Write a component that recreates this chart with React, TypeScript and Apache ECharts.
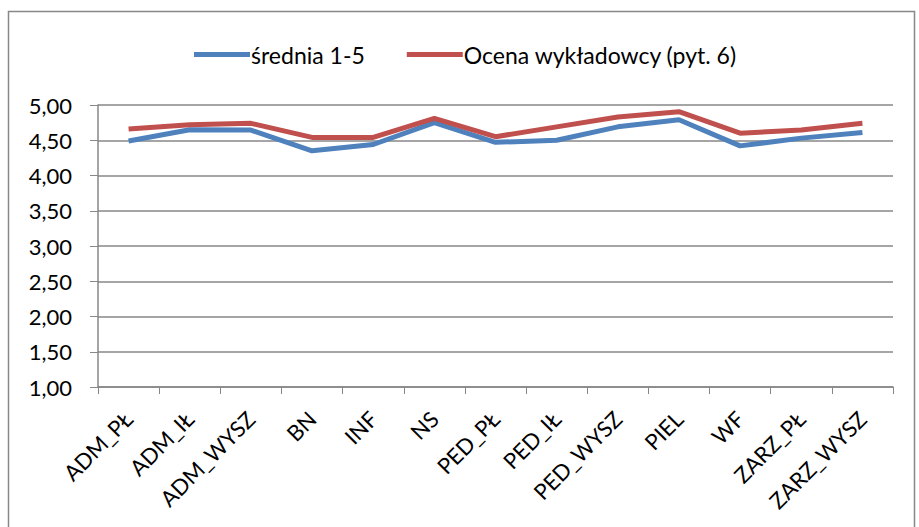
import React, { useEffect, useRef } from "react";
import * as echarts from "echarts";

const categories = ["ADM_PŁ", "ADM_IŁ", "ADM_WYSZ", "BN", "INF", "NS", "PED_PŁ", "PED_IŁ", "PED_WYSZ", "PIEL", "WF", "ZARZ_PŁ", "ZARZ_WYSZ"];
const srednia = [4.49, 4.65, 4.645, 4.35, 4.44, 4.75, 4.47, 4.50, 4.69, 4.79, 4.42, 4.53, 4.61];
const ocena = [4.66, 4.72, 4.74, 4.54, 4.54, 4.81, 4.55, 4.69, 4.83, 4.905, 4.60, 4.645, 4.74];
const seriesNames = ["średnia 1-5", "Ocena wykładowcy (pyt. 6)"];

const FONT = "Lato, 'Open Sans', sans-serif";

export default function App() {
  const ref = useRef<HTMLDivElement>(null);
  useEffect(() => {
    document.body.style.margin = "0";
    const chart = echarts.init(ref.current!, null, { renderer: "svg" });
    chart.setOption({
      animation: false,
      backgroundColor: "#ffffff",
      textStyle: { fontFamily: FONT, color: "#000" },
      graphic: [
        {
          type: "rect",
          shape: { x: 8.5, y: 11.5, width: 906, height: 530 },
          style: { fill: "none", stroke: "#888", lineWidth: 1.5 },
          silent: true,
        },
      ],
      legend: {
        top: 38,
        left: 189,
        itemWidth: 56,
        itemHeight: 5,
        itemGap: 42,
        icon: "rect",
        textStyle: { fontSize: 23, fontFamily: FONT, color: "#000", padding: [0, 0, 0, -4] },
        data: seriesNames,
      },
      grid: { left: 98, right: 26, top: 105, bottom: 140 },
      xAxis: {
        type: "category",
        data: categories,
        boundaryGap: true,
        axisLine: { lineStyle: { color: "#878787", width: 1.5 } },
        axisTick: { show: true, length: 7, lineStyle: { color: "#878787" } },
        axisLabel: { rotate: 45, fontSize: 22, color: "#000", fontFamily: FONT, interval: 0, margin: 28 },
      },
      yAxis: {
        type: "value",
        min: 1,
        max: 5,
        interval: 0.5,
        axisLine: { show: true, lineStyle: { color: "#878787", width: 1.5 } },
        axisTick: { show: true, length: 8, lineStyle: { color: "#878787" } },
        splitLine: { lineStyle: { color: "#878787", width: 1.5 } },
        axisLabel: {
          fontSize: 22,
          color: "#000",
          fontFamily: FONT,
          margin: 26,
          formatter: (v: number) => v.toFixed(2).replace(".", ","),
        },
      },
      series: [
        {
          name: seriesNames[0],
          type: "line",
          data: srednia,
          symbol: "none",
          lineStyle: { color: "#4F81BD", width: 5 },
          itemStyle: { color: "#4F81BD" },
        },
        {
          name: seriesNames[1],
          type: "line",
          data: ocena,
          symbol: "none",
          lineStyle: { color: "#C0504D", width: 5 },
          itemStyle: { color: "#C0504D" },
        },
      ],
    });
    return () => chart.dispose();
  }, []);
  return <div ref={ref} style={{ width: 919, height: 527 }} />;
}
